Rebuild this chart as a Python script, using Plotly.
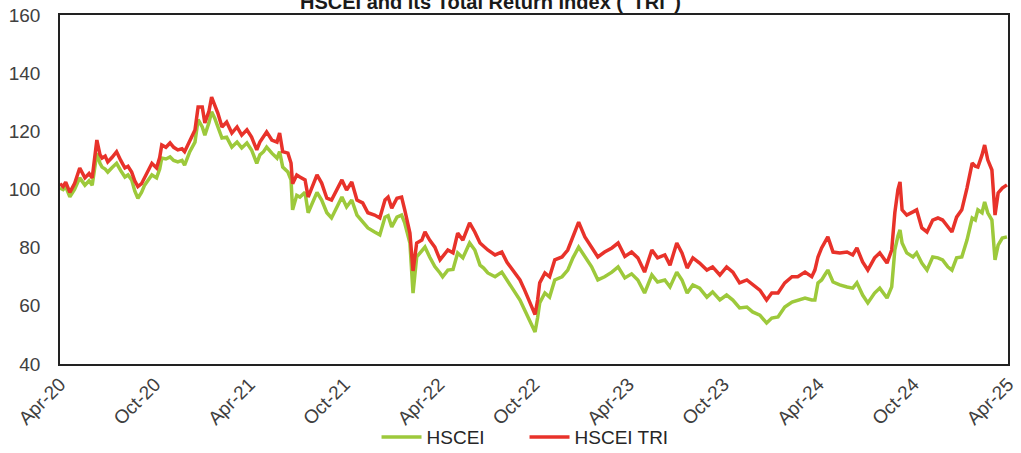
import plotly.graph_objects as go

dates = [
    "2020-04-01", "2020-04-07", "2020-04-12", "2020-04-20", "2020-04-29", "2020-05-09", "2020-05-19", "2020-05-27",
    "2020-06-02", "2020-06-07", "2020-06-11", "2020-06-17", "2020-06-21", "2020-06-27", "2020-07-02", "2020-07-10",
    "2020-07-19", "2020-07-27", "2020-08-04", "2020-08-10", "2020-08-17", "2020-08-23", "2020-08-29", "2020-09-05",
    "2020-09-11", "2020-09-19", "2020-09-25", "2020-10-04", "2020-10-10", "2020-10-14", "2020-10-22", "2020-10-30",
    "2020-11-06", "2020-11-14", "2020-11-22", "2020-11-27", "2020-12-07", "2020-12-17", "2020-12-23", "2020-12-31",
    "2021-01-05", "2021-01-13", "2021-01-18", "2021-01-24", "2021-01-30", "2021-02-07", "2021-02-16", "2021-02-26",
    "2021-03-08", "2021-03-17", "2021-03-27", "2021-04-05", "2021-04-15", "2021-04-21", "2021-04-28", "2021-05-04",
    "2021-05-14", "2021-05-24", "2021-05-29", "2021-06-04", "2021-06-14", "2021-06-20", "2021-06-23", "2021-07-01",
    "2021-07-07", "2021-07-17", "2021-07-23", "2021-07-31", "2021-08-09", "2021-08-18", "2021-08-28", "2021-09-06",
    "2021-09-16", "2021-09-26", "2021-10-05", "2021-10-15", "2021-10-25", "2021-11-05", "2021-11-15", "2021-11-28",
    "2021-12-08", "2021-12-18", "2021-12-24", "2021-12-31", "2022-01-10", "2022-01-19", "2022-01-25", "2022-02-04",
    "2022-02-10", "2022-02-17", "2022-02-27", "2022-03-05", "2022-03-14", "2022-03-24", "2022-04-03", "2022-04-08",
    "2022-04-18", "2022-04-28", "2022-05-07", "2022-05-17", "2022-05-30", "2022-06-09", "2022-06-19", "2022-06-26",
    "2022-07-04", "2022-07-18", "2022-07-31", "2022-08-10", "2022-08-21", "2022-09-04", "2022-09-13", "2022-09-23",
    "2022-10-03", "2022-10-08", "2022-10-12", "2022-10-22", "2022-10-31", "2022-11-10", "2022-11-24", "2022-12-05",
    "2022-12-15", "2022-12-26", "2023-01-07", "2023-01-20", "2023-02-01", "2023-02-14", "2023-02-28", "2023-03-12",
    "2023-03-25", "2023-04-07", "2023-04-19", "2023-05-02", "2023-05-16", "2023-05-27", "2023-06-10", "2023-06-20",
    "2023-07-03", "2023-07-13", "2023-07-23", "2023-08-03", "2023-08-16", "2023-08-30", "2023-09-10", "2023-09-24",
    "2023-10-07", "2023-10-19", "2023-11-01", "2023-11-15", "2023-11-26", "2023-12-10", "2023-12-23", "2024-01-02",
    "2024-01-14", "2024-01-27", "2024-02-10", "2024-02-21", "2024-03-06", "2024-03-19", "2024-03-25", "2024-03-31",
    "2024-04-07", "2024-04-13", "2024-04-19", "2024-04-29", "2024-05-12", "2024-05-26", "2024-06-06", "2024-06-14",
    "2024-06-25", "2024-07-05", "2024-07-18", "2024-07-28", "2024-08-11", "2024-08-20", "2024-08-26", "2024-09-01",
    "2024-09-05", "2024-09-09", "2024-09-18", "2024-09-30", "2024-10-07", "2024-10-17", "2024-10-27", "2024-11-07",
    "2024-11-17", "2024-11-26", "2024-12-06", "2024-12-14", "2024-12-23", "2025-01-02", "2025-01-12", "2025-01-22",
    "2025-01-28", "2025-02-02", "2025-02-10", "2025-02-15", "2025-02-21", "2025-03-01", "2025-03-07", "2025-03-13",
    "2025-03-21", "2025-03-30",
]

hscei_tri = [
    102, 101, 102.5, 99, 102, 107.4, 104, 105.5,
    104, 112, 117, 112, 110.8, 111.5, 109.5, 111,
    113, 110, 107.4, 108, 106, 103, 101, 102,
    104.3, 107, 109, 107.4, 111, 115.3, 114.5, 116,
    114.5, 113.6, 114, 113, 117, 120.5, 128.4, 128.4,
    122.9, 127, 131.8, 129, 126.3, 121.5, 123.2, 119.4,
    121.5, 118.7, 120.5, 118, 113.6, 116.3, 118, 119.8,
    117, 116.3, 119.4, 113, 112.5, 109.1, 102, 105,
    104.3, 103.3, 97.4, 101, 105, 102.2, 97, 96.4,
    99.8, 103.3, 99.8, 102.6, 96.4, 95.4, 92, 91.2,
    90.2, 96.4, 97.4, 93.6, 97, 97.4, 93, 85,
    72, 81.6, 82.6, 85.4, 82.6, 80.2, 75.8, 76.8,
    79.2, 78.2, 85, 82.6, 88.5, 85.4, 81.6, 80.5,
    79.2, 77.5, 78.5, 75, 72.3, 68.9, 65.4, 61,
    57, 62, 67.9, 71.3, 70, 75.8, 76.8, 79.2,
    83.7, 88.8, 83.7, 80.2, 76.8, 78.5, 79.9, 81.6,
    77, 78.5, 76.5, 71.6, 79.2, 76.5, 77.5, 74,
    81.6, 78.2, 73, 76.5, 74.7, 72.3, 73.4, 70.6,
    73.4, 71.6, 67.9, 68.9, 67.2, 65.4, 62, 64.4,
    64.4, 67.9, 70, 70, 71.6, 70, 72.3, 76.8,
    79.9, 81.6, 83.7, 78.5, 78.2, 78.5, 77.5, 79.9,
    75.1, 72.3, 76.5, 78.2, 74.7, 79.2, 92, 100,
    102.6, 93, 91.2, 92.3, 93, 86.8, 85.4, 89.5,
    90.2, 89.5, 87.1, 85.4, 90.5, 93, 100.5, 109.1,
    108, 107.7, 111.9, 115.3, 110.2, 106.7, 91.2, 98.8,
    100.5, 101.6,
]

hscei = [
    100.5, 100, 101, 97.5, 100, 104, 101.5, 103,
    101.5, 108, 112.5, 109, 107.7, 107, 106, 107.5,
    109, 106.5, 104.3, 105, 103.3, 99.5, 97, 99,
    101.5, 103.5, 105, 104, 107, 110.8, 110.5, 111.2,
    110, 109.5, 110, 108.4, 113, 116.3, 124, 121.5,
    118.7, 123, 126.7, 124.5, 121.5, 117.7, 118, 114.6,
    116.3, 114.3, 116, 113.6, 109, 111.9, 113, 114.6,
    112.5, 110.8, 113, 107.7, 106, 103.3, 93, 98,
    97.4, 99, 92, 95.5, 99, 96.4, 92, 90.2,
    94, 97.4, 94, 96.4, 91.2, 88.8, 86.8, 85.4,
    84.4, 90.5, 91, 87.1, 90.5, 91.2, 88.5, 81.6,
    64.4, 76.8, 79.2, 80.2, 76.8, 73.5, 71.3, 70,
    72.3, 72.5, 78.2, 76.5, 81.6, 79.2, 74, 73,
    71.3, 70, 71.6, 68.9, 66.1, 62, 58.6, 55.1,
    51, 56, 61, 64.4, 63, 68.9, 70, 72.3,
    76.5, 80.2, 76.8, 73.4, 68.9, 70, 71.6, 73.4,
    69.6, 71, 68.9, 64.4, 70.6, 68.2, 68.9, 66.5,
    71.6, 68.9, 64.4, 67.2, 66.1, 63, 64.8, 62,
    63.7, 62, 59.3, 59.6, 57.9, 56.8, 54.1, 55.8,
    56.2, 59.6, 61.3, 62, 62.7, 62, 62, 67.9,
    68.9, 70.6, 72.3, 68.2, 67.2, 66.5, 66.1, 67.9,
    63.7, 61, 64.4, 66.1, 62.7, 66.5, 79.2, 84,
    86.1, 81.6, 78.2, 76.8, 78.2, 74.7, 72.3, 76.8,
    76.5, 75.8, 73.4, 72.3, 76.5, 76.8, 82.6, 90.2,
    89.5, 93, 92, 95.7, 92, 89.5, 75.8, 80.9,
    83.3, 83.7,
]

tick_dates = ["2020-04-01", "2020-10-01", "2021-04-01", "2021-10-01", "2022-04-01", "2022-10-01",
              "2023-04-01", "2023-10-01", "2024-04-01", "2024-10-01", "2025-04-01"]
tick_labels = ["Apr-20", "Oct-20", "Apr-21", "Oct-21", "Apr-22", "Oct-22",
               "Apr-23", "Oct-23", "Apr-24", "Oct-24", "Apr-25"]
y_ticks = [40, 60, 80, 100, 120, 140, 160]

title_text = 'HSCEI and its Total Return Index ("TRI")'
FONT = "Arial, Liberation Sans, sans-serif"

fig = go.Figure()
fig.add_trace(go.Scatter(x=dates, y=hscei, mode="lines", name="HSCEI",
                         line=dict(color="#9DC93B", width=3.5)))
fig.add_trace(go.Scatter(x=dates, y=hscei_tri, mode="lines", name="HSCEI TRI",
                         line=dict(color="#E8322A", width=3.5)))

fig.update_layout(
    width=1021, height=453,
    margin=dict(l=60, r=13, t=15, b=89, autoexpand=False),
    paper_bgcolor="white", plot_bgcolor="white",
    font=dict(family=FONT, size=19, color="#404040"),
    showlegend=True,
    legend=dict(orientation="h", x=0.49, xanchor="center",
                yref="container", y=0.035, yanchor="middle",
                entrywidth=93, entrywidthmode="pixels", itemwidth=40,
                font=dict(size=19, color="#262626"), bgcolor="rgba(0,0,0,0)"),
    annotations=[dict(text="<b>" + title_text + "</b>", x=0.4536, xref="paper", xanchor="center",
                      y=1, yref="paper", yanchor="bottom", yshift=0, showarrow=False,
                      font=dict(size=20, color="#1a1a1a", family=FONT))],
)
fig.update_xaxes(
    type="date", range=["2020-04-01", "2025-04-01"], automargin=False,
    tickvals=tick_dates, ticktext=tick_labels, tickangle=-45,
    showgrid=False, zeroline=False,
    showline=True, linecolor="#222222", linewidth=1.5, mirror=True,
    ticks="", tickfont=dict(size=19, color="#404040"),
)
fig.update_yaxes(
    range=[40, 160], tickvals=y_ticks, automargin=False,
    showgrid=False, zeroline=False,
    showline=True, linecolor="#222222", linewidth=1.5, mirror=True,
    ticks="", ticklabelstandoff=14,
    tickfont=dict(size=19, color="#404040"),
)

fig.write_html("out.html", config={"displayModeBar": False},
               post_script="document.body.style.margin='0';document.body.style.overflow='hidden';")
